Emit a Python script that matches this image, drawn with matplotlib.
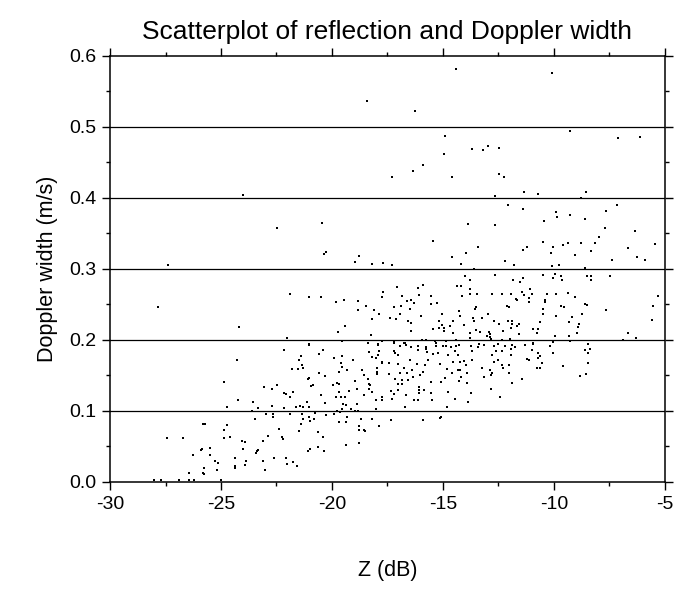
import numpy as np
import matplotlib
matplotlib.use("Agg")
import matplotlib.pyplot as plt
from matplotlib.ticker import MultipleLocator, FormatStrFormatter

plt.rcParams['font.family'] = ['Liberation Sans', 'DejaVu Sans']

# reflectivity Z (dB) and Doppler width (m/s) for each sample
z_db = [
    -18.41, -23.99, -14.40, -16.25, -14.90, -13.68, -13.18, -12.97, -12.48, -14.94,
    -15.89, -16.35, -17.31, -14.58, -12.48, -12.24, -12.66,
    -10.09, -9.28, -7.09, -6.14, -11.35, -10.71, -8.57, -8.80,
    -27.39, -27.82,
    -20.45, -22.46, -20.29, -20.36, -18.77, -18.95, -21.89, -21.05, -20.48, -19.82,
    -19.46, -18.81, -18.45, -18.81, -24.18, -19.43, -19.73, -22.03, -19.56, -18.36, -21.05,
    -12.06, -13.86, -12.64, -15.44, -13.41, -14.59, -13.96, -12.19, -14.19, -18.18,
    -17.72, -17.28, -13.62, -11.79, -12.64, -14.02, -11.85, -13.78, -17.06, -16.13,
    -15.89, -14.37, -14.19, -13.77, -17.72, -13.80, -13.45, -12.78, -12.33, -11.94,
    -14.16, -17.76, -16.86, -16.08, -15.53, -16.46, -16.64, -16.32, -15.53, -15.26,
    -18.47, -17.19, -16.91, -16.50, -13.56, -13.50, -12.11, -12.01, -18.09, -16.94,
    -17.87, -15.03, -14.29, -14.25, -12.96, -15.99, -18.18, -17.37, -17.12, -13.65,
    -13.23, -16.59, -16.45, -15.18, -14.56, -13.59, -12.69, -12.09, -11.91, -11.91,
    -15.02, -14.07, -12.48, -14.67, -14.97, -15.18, -15.44, -11.94, -16.43, -14.94,
    -13.50, -13.33, -12.91, -12.31, -18.26, -14.55, -13.80, -12.88, -13.00, -12.87,
    -13.80, -14.41, -15.93, -15.78, -15.36, -14.86, -12.84, -12.33, -11.98, -18.38,
    -17.94, -17.19, -16.71, -13.39, -12.51,
    -11.41, -9.92, -9.88, -10.45, -9.28, -8.59, -7.66, -7.15, -7.72, -6.34,
    -7.99, -10.48, -9.37, -8.78, -8.15, -9.58, -10.06, -11.23, -11.41, -6.64,
    -5.44, -8.33, -10.14, -9.03, -6.25, -7.37, -5.89, -9.79, -10.09, -8.59,
    -11.55, -11.37, -10.48, -9.97, -10.06, -9.70, -9.63, -8.50, -8.35, -8.32,
    -7.48, -11.07, -11.44, -11.34, -10.98, -10.32, -9.92, -9.35, -9.05, -11.71,
    -11.65, -11.10, -11.11, -10.41, -10.42, -9.67, -9.54, -8.62, -8.53, -5.29,
    -5.54, -7.66, -10.48, -10.50, -8.75, -9.92, -9.19, -10.63, -9.31, -5.59,
    -11.56, -11.67, -8.87, -8.90, -10.92, -10.71, -8.98, -11.56, -10.75, -6.68,
    -9.97, -9.31, -6.28, -6.88, -10.06, -9.28, -11.29, -10.93, -8.48,
    -24.86, -25.72, -25.79, -24.88, -27.45, -26.70, -24.88, -25.87, -25.92, -25.51,
    -26.28, -25.51, -25.27, -25.12, -25.75, -26.43, -25.81, -25.75, -25.17, -28.02,
    -27.69, -26.88, -26.45, -26.23, -25.00,
    -21.05, -22.15, -20.57, -20.39, -21.40, -21.49, -24.29, -19.91, -19.55, -19.05,
    -19.59, -21.37, -21.29, -19.55, -21.80, -21.55, -19.32, -19.67, -20.59, -18.63,
    -18.54, -20.30, -18.38, -21.10, -21.02, -18.95, -19.94, -19.79, -19.68, -18.35,
    -22.46, -20.86, -20.95, -23.06, -22.69, -18.35, -18.89, -19.23, -19.67, -21.76,
    -22.18, -22.09, -18.54, -20.50, -21.89, -19.81, -19.41, -19.61, -24.22, -23.56,
    -20.30, -19.49, -19.37, -18.86, -22.69, -21.46, -21.31, -21.05, -21.64, -21.14,
    -24.74, -23.35, -22.18, -19.76, -19.64, -19.55, -19.16, -18.98, -18.81, -23.59,
    -22.67, -22.96, -21.89, -21.34, -20.75, -20.27, -19.91, -22.66, -21.02, -19.34,
    -18.68, -23.47, -21.29, -20.80, -20.98, -19.68, -19.38, -21.40, -24.74, -18.80,
    -21.47, -22.39, -20.62, -18.78, -18.54, -22.90, -20.41, -24.58, -22.26, -22.21,
    -24.05, -23.92, -23.09, -19.38, -18.78, -20.62, -24.00, -20.99, -23.32, -23.37,
    -23.41, -21.07, -20.38, -24.36, -22.61, -22.09, -23.89, -23.09, -21.74, -22.04,
    -23.93, -21.59, -24.36, -24.38, -23.00,
    -17.91, -17.73, -17.19, -16.94, -16.74, -16.65, -16.45, -16.14, -15.77, -15.33,
    -15.32, -15.00, -14.84, -14.64, -14.40, -14.27, -13.74, -13.41, -13.17, -12.69,
    -12.51, -12.22, -11.91, -18.33, -17.88, -17.91, -17.19, -17.16, -17.04, -16.11,
    -15.77, -15.74, -15.44, -15.23, -14.79, -14.46, -14.34, -13.68, -12.78, -12.60,
    -12.33, -11.94, -18.18, -18.03, -17.73, -17.76, -17.43, -17.01, -16.50, -16.19,
    -15.83, -15.69, -15.12, -14.54, -14.25, -14.07, -13.95, -13.68, -12.69, -12.51,
    -12.33, -12.03, -13.26, -17.96, -16.74, -14.82, -14.31, -14.23, -12.88, -12.28,
    -17.95, -17.95, -17.43, -16.95, -16.64, -16.38, -16.05, -15.90, -14.58, -13.93,
    -12.79, -12.04, -14.19, -13.14, -12.84, -18.36, -17.18, -16.86, -16.56, -16.37,
    -15.53, -15.09, -14.91, -14.28, -13.93, -11.91, -18.30, -17.04, -16.83, -18.33,
    -16.06, -16.06, -15.87, -12.82, -17.34, -17.04, -18.18, -17.19, -15.56, -14.79,
    -13.74, -16.65, -16.06, -17.76, -17.76, -17.28, -18.02, -16.32, -16.11, -15.51,
    -14.46, -13.86, -12.42, -14.82, -16.71, -18.00, -18.21, -17.34, -15.90, -15.09,
    -15.12, -17.87, -18.51,
    -11.28, -10.93, -10.18, -8.45, -11.93, -11.74, -10.99, -10.72, -10.62, -10.72,
    -10.02, -8.59, -8.38, -8.45, -11.20, -11.14, -10.53, -9.59, -8.45, -10.74,
    -10.63, -8.84, -8.54, -11.46,
]
width = [
    0.537, 0.404, 0.582, 0.522, 0.487, 0.469, 0.467, 0.473, 0.470, 0.462,
    0.446, 0.438, 0.430, 0.430, 0.434, 0.430, 0.403,
    0.576, 0.494, 0.484, 0.486, 0.408, 0.405, 0.409, 0.400,
    0.305, 0.246,
    0.365, 0.357, 0.324, 0.321, 0.318, 0.309, 0.264, 0.260, 0.260, 0.254,
    0.256, 0.255, 0.247, 0.242, 0.218, 0.219, 0.211, 0.202, 0.198, 0.196, 0.194,
    0.390, 0.363, 0.362, 0.339, 0.331, 0.317, 0.322, 0.311, 0.307, 0.307,
    0.308, 0.305, 0.300, 0.306, 0.291, 0.290, 0.284, 0.284, 0.275, 0.273,
    0.277, 0.276, 0.276, 0.271, 0.268, 0.264, 0.264, 0.264, 0.264, 0.264,
    0.262, 0.260, 0.262, 0.263, 0.262, 0.256, 0.255, 0.252, 0.250, 0.252,
    0.247, 0.246, 0.247, 0.244, 0.244, 0.246, 0.248, 0.246, 0.242, 0.237,
    0.236, 0.236, 0.240, 0.234, 0.236, 0.233, 0.229, 0.231, 0.230, 0.231,
    0.231, 0.227, 0.224, 0.227, 0.226, 0.227, 0.227, 0.226, 0.227, 0.223,
    0.221, 0.221, 0.223, 0.219, 0.217, 0.216, 0.215, 0.216, 0.212, 0.213,
    0.214, 0.211, 0.211, 0.212, 0.207, 0.209, 0.209, 0.208, 0.206, 0.204,
    0.202, 0.200, 0.200, 0.200, 0.198, 0.199, 0.201, 0.200, 0.201, 0.195,
    0.194, 0.198, 0.196, 0.194, 0.194,
    0.385, 0.380, 0.373, 0.368, 0.376, 0.370, 0.382, 0.390, 0.357, 0.353,
    0.345, 0.338, 0.337, 0.336, 0.337, 0.333, 0.331, 0.331, 0.326, 0.329,
    0.335, 0.325, 0.322, 0.320, 0.317, 0.312, 0.312, 0.306, 0.304, 0.301,
    0.282, 0.287, 0.291, 0.293, 0.287, 0.290, 0.285, 0.290, 0.290, 0.284,
    0.290, 0.272, 0.268, 0.263, 0.264, 0.264, 0.265, 0.266, 0.261, 0.258,
    0.256, 0.259, 0.254, 0.256, 0.254, 0.248, 0.246, 0.251, 0.249, 0.262,
    0.247, 0.242, 0.244, 0.236, 0.236, 0.233, 0.232, 0.225, 0.225, 0.228,
    0.223, 0.219, 0.223, 0.218, 0.215, 0.215, 0.210, 0.208, 0.209, 0.210,
    0.205, 0.206, 0.202, 0.200, 0.197, 0.198, 0.193, 0.194, 0.194,
    0.141, 0.081, 0.081, 0.073, 0.062, 0.062, 0.062, 0.046, 0.045, 0.047,
    0.038, 0.038, 0.029, 0.027, 0.020, 0.012, 0.012, 0.011, 0.017, 0.002,
    0.002, 0.002, 0.002, 0.003, 0.003,
    0.193, 0.185, 0.180, 0.186, 0.177, 0.172, 0.171, 0.174, 0.177, 0.171,
    0.168, 0.165, 0.161, 0.162, 0.159, 0.159, 0.157, 0.155, 0.153, 0.157,
    0.150, 0.149, 0.145, 0.145, 0.146, 0.142, 0.136, 0.139, 0.138, 0.138,
    0.136, 0.136, 0.135, 0.134, 0.131, 0.131, 0.131, 0.128, 0.127, 0.126,
    0.125, 0.124, 0.123, 0.122, 0.119, 0.120, 0.120, 0.120, 0.115, 0.113,
    0.111, 0.110, 0.108, 0.109, 0.107, 0.107, 0.106, 0.105, 0.106, 0.112,
    0.105, 0.104, 0.104, 0.100, 0.098, 0.103, 0.102, 0.100, 0.100, 0.100,
    0.096, 0.095, 0.095, 0.095, 0.097, 0.094, 0.095, 0.092, 0.092, 0.091,
    0.089, 0.089, 0.088, 0.088, 0.085, 0.084, 0.084, 0.082, 0.080, 0.078,
    0.072, 0.074, 0.070, 0.073, 0.073, 0.065, 0.063, 0.063, 0.063, 0.061,
    0.058, 0.056, 0.058, 0.052, 0.054, 0.049, 0.046, 0.046, 0.045, 0.043,
    0.041, 0.043, 0.043, 0.033, 0.033, 0.033, 0.030, 0.029, 0.028, 0.025,
    0.023, 0.022, 0.019, 0.022, 0.016,
    0.193, 0.198, 0.196, 0.191, 0.196, 0.193, 0.190, 0.192, 0.190, 0.195,
    0.192, 0.191, 0.191, 0.190, 0.192, 0.193, 0.191, 0.190, 0.193, 0.192,
    0.194, 0.191, 0.193, 0.183, 0.184, 0.179, 0.184, 0.181, 0.179, 0.186,
    0.187, 0.183, 0.180, 0.181, 0.179, 0.184, 0.178, 0.184, 0.179, 0.184,
    0.184, 0.179, 0.176, 0.174, 0.169, 0.167, 0.167, 0.166, 0.171, 0.166,
    0.164, 0.172, 0.166, 0.169, 0.169, 0.170, 0.164, 0.172, 0.169, 0.171,
    0.164, 0.165, 0.161, 0.160, 0.160, 0.159, 0.158, 0.158, 0.157, 0.160,
    0.155, 0.152, 0.152, 0.153, 0.154, 0.157, 0.151, 0.155, 0.154, 0.154,
    0.154, 0.154, 0.148, 0.148, 0.151, 0.145, 0.145, 0.143, 0.144, 0.147,
    0.141, 0.141, 0.146, 0.142, 0.139, 0.139, 0.137, 0.138, 0.138, 0.131,
    0.133, 0.130, 0.130, 0.131, 0.128, 0.129, 0.126, 0.124, 0.125, 0.127,
    0.125, 0.123, 0.125, 0.120, 0.115, 0.117, 0.115, 0.115, 0.115, 0.115,
    0.117, 0.113, 0.119, 0.106, 0.105, 0.102, 0.089, 0.087, 0.087, 0.092,
    0.090, 0.079, 0.072,
    0.193, 0.195, 0.192, 0.194, 0.187, 0.190, 0.186, 0.181, 0.177, 0.174,
    0.181, 0.186, 0.187, 0.181, 0.173, 0.171, 0.168, 0.163, 0.167, 0.161,
    0.161, 0.149, 0.152, 0.145,
]

fig = plt.figure(figsize=(6.75, 5.89), dpi=100)
ax = fig.add_axes([0.163, 0.182, 0.822, 0.723])

ax.scatter(z_db, width, s=3, marker='s', color='black', linewidths=0)

ax.set_xlim(-30, -5)
ax.set_ylim(0, 0.6)
ax.xaxis.set_major_locator(MultipleLocator(5))
ax.xaxis.set_minor_locator(MultipleLocator(2.5))
ax.yaxis.set_major_locator(MultipleLocator(0.1))
ax.yaxis.set_minor_locator(MultipleLocator(0.05))
ax.xaxis.set_major_formatter(FormatStrFormatter('%d'))
ax.yaxis.set_major_formatter(FormatStrFormatter('%.1f'))

ax.tick_params(which='both', direction='out', top=True, right=True,
               labelsize=14, width=1, color='black')
ax.tick_params(which='major', length=6, pad=4)
ax.tick_params(which='minor', length=3)

for y in [0.1, 0.2, 0.3, 0.4, 0.5]:
    ax.axhline(y, color='black', lw=0.9, zorder=0)

for s in ax.spines.values():
    s.set_linewidth(1.1)

ax.set_title('Scatterplot of reflection and Doppler width', fontsize=19, pad=12)
ax.set_xlabel('Z (dB)', fontsize=15.5, labelpad=34)
ax.set_ylabel('Doppler width (m/s)', fontsize=15.5, labelpad=8)

fig.savefig('out.png', dpi=100)
